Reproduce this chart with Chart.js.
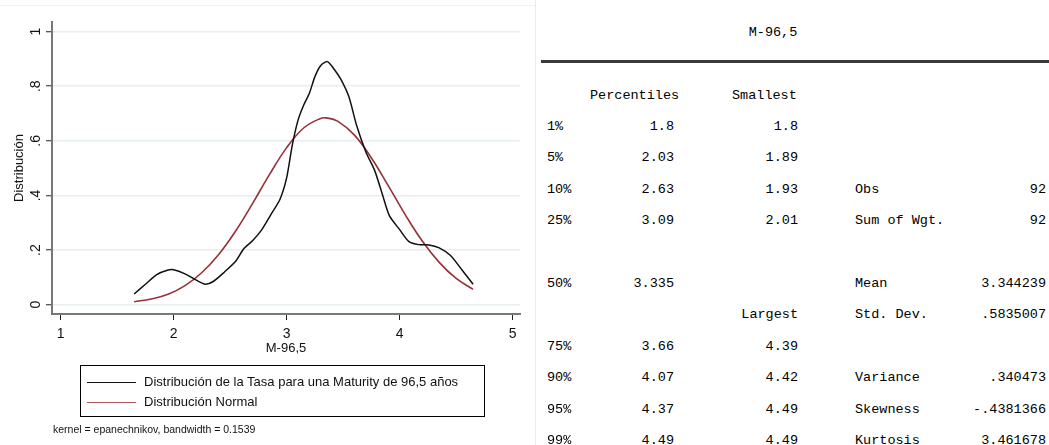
<!DOCTYPE html>
<html>
<head>
<meta charset="utf-8">
<script src="https://cdn.jsdelivr.net/npm/chart.js@4.4.1/dist/chart.umd.min.js"></script>
<style>
  body { margin: 0; background: #fff; width: 1049px; height: 445px; overflow: hidden; position: relative; font-family: "Liberation Sans", Arial, sans-serif; }
  #plot { position: absolute; left: 0; top: 0; }
  #topline { position: absolute; left: 0; top: 5px; width: 535px; height: 1px; background: #f1f3f3; }
  #vline { position: absolute; left: 535px; top: 0; width: 1px; height: 445px; background: #ececec; }
  #legend { position: absolute; left: 80px; top: 365px; width: 405px; height: 52px; border: 1px solid #000; box-sizing: border-box; font-size: 13px; color: #111; }
  .item { position: absolute; left: 6px; height: 16px; line-height: 16px; white-space: nowrap; }
  .swatch { display: inline-block; width: 49px; height: 0; border-top: 1.5px solid; vertical-align: middle; margin-right: 8px; }
  #note { position: absolute; left: 53px; top: 423px; font-size: 10.5px; color: #111; white-space: nowrap; }
  .c { position: absolute; font-family: "Liberation Mono", "Courier New", monospace; font-size: 13.5px; color: #000; white-space: pre; line-height: 16px; }
  #rule { position: absolute; left: 541px; top: 60px; width: 508px; height: 3px; background: #3a3a3a; }
</style>
</head>
<body>
<canvas id="plot" width="530" height="445"></canvas>
<div id="topline"></div>
<div id="vline"></div>
<div id="legend"></div>
<div id="note">kernel = epanechnikov, bandwidth = 0.1539</div>
<div id="rule"></div>
<div id="stats"></div>
<script>
// axis ticks
const xTicks = [1, 2, 3, 4, 5];
const yTicks = [0, 0.2, 0.4, 0.6, 0.8, 1];
const yTickLabels = ["0", ".2", ".4", ".6", ".8", "1"];

// kernel density
const kdeX = [1.65, 1.75, 1.85, 1.95, 2.0, 2.1, 2.2, 2.28, 2.35, 2.45, 2.55, 2.62, 2.7, 2.78, 2.86, 2.94, 3.0, 3.05, 3.1, 3.15, 3.2, 3.25, 3.3, 3.36, 3.42, 3.48, 3.55, 3.62, 3.7, 3.78, 3.85, 3.91, 4.0, 4.08, 4.17, 4.26, 4.35, 4.45, 4.55, 4.65];
const kdeY = [0.039, 0.075, 0.110, 0.127, 0.128, 0.113, 0.090, 0.075, 0.085, 0.120, 0.160, 0.205, 0.235, 0.275, 0.33, 0.385, 0.465, 0.585, 0.675, 0.73, 0.773, 0.835, 0.875, 0.890, 0.862, 0.825, 0.762, 0.655, 0.56, 0.49, 0.40, 0.325, 0.275, 0.232, 0.220, 0.219, 0.208, 0.180, 0.128, 0.075];

// normal curve
const normX = [1.65, 1.8, 1.95, 2.1, 2.25, 2.4, 2.55, 2.7, 2.85, 3.0, 3.15, 3.3, 3.35, 3.45, 3.6, 3.75, 3.9, 4.05, 4.2, 4.35, 4.5, 4.65];
const normY = [0.011, 0.021, 0.038, 0.070, 0.118, 0.185, 0.271, 0.372, 0.478, 0.575, 0.647, 0.682, 0.684, 0.672, 0.621, 0.537, 0.435, 0.329, 0.233, 0.155, 0.096, 0.056];

const seriesNames = ["Distribución de la Tasa para una Maturity de 96,5 años", "Distribución Normal"];
const seriesColors = ["#111111", "#983039"];

// summary table
const varName = "M-96,5";
const pctLabels = ["1%", "5%", "10%", "25%", "", "50%", "", "75%", "90%", "95%", "99%"];
const pctValues = ["1.8", "2.03", "2.63", "3.09", "", "3.335", "", "3.66", "4.07", "4.37", "4.49"];
const extremeValues = ["1.8", "1.89", "1.93", "2.01", "", "", "Largest", "4.39", "4.42", "4.49", "4.49"];
const statLabels = ["", "", "Obs", "Sum of Wgt.", "", "Mean", "Std. Dev.", "", "Variance", "Skewness", "Kurtosis"];
const statValues = ["", "", "92", "92", "", "3.344239", ".5835007", "", ".340473", "-.4381366", "3.461678"];

const yLabelsPlugin = {
  id: "yLabels",
  afterDraw(chart) {
    const ctx = chart.ctx;
    const y = chart.scales.y;
    ctx.save();
    ctx.fillStyle = "#111";
    ctx.font = '14px "Liberation Sans", Arial, sans-serif';
    ctx.textAlign = "center";
    ctx.textBaseline = "middle";
    yTicks.forEach((v, i) => {
      ctx.save();
      ctx.translate(36, y.getPixelForValue(v));
      ctx.rotate(-Math.PI / 2);
      ctx.fillText(yTickLabels[i], 0, 0);
      ctx.restore();
    });
    ctx.restore();
  },
};

new Chart(document.getElementById("plot").getContext("2d"), {
  type: "line",
  data: {
    datasets: [
      {
        label: seriesNames[0],
        data: kdeX.map((x, i) => ({ x: x, y: kdeY[i] })),
        borderColor: seriesColors[0],
        borderWidth: 1.5,
        pointRadius: 0,
        tension: 0.25,
        fill: false,
      },
      {
        label: seriesNames[1],
        data: normX.map((x, i) => ({ x: x, y: normY[i] })),
        borderColor: seriesColors[1],
        borderWidth: 1.6,
        pointRadius: 0,
        tension: 0.4,
        fill: false,
      },
    ],
  },
  options: {
    responsive: false,
    animation: false,
    devicePixelRatio: 1,
    layout: { padding: { left: 0, top: 22, right: 10, bottom: 89 } },
    plugins: { legend: { display: false }, tooltip: { enabled: false } },
    scales: {
      x: {
        type: "linear",
        min: 0.923,
        max: 5.065,
        afterBuildTicks: (s) => { s.ticks = xTicks.map((v) => ({ value: v })); },
        afterFit: (s) => { s.height = 42; },
        ticks: { color: "#111", font: { size: 14 }, padding: 6, maxRotation: 0, callback: (v) => String(v) },
        grid: { drawOnChartArea: false, drawTicks: true, tickLength: 6, tickColor: "#222", tickWidth: 1 },
        border: { color: "#777", width: 2 },
        title: { display: true, text: varName, color: "#111", font: { size: 13 }, padding: 0 },
      },
      y: {
        type: "linear",
        min: -0.034,
        max: 1.035,
        afterBuildTicks: (s) => { s.ticks = yTicks.map((v) => ({ value: v })); },
        afterFit: (s) => { s.width = 52; },
        ticks: { display: false },
        grid: { color: "#e6eef1", lineWidth: 1.5, drawTicks: true, tickLength: 6, tickColor: "#222", tickWidth: 1 },
        border: { color: "#777", width: 2 },
        title: { display: true, text: "Distribución", color: "#111", font: { size: 13 }, padding: { top: 12, bottom: 0 } },
      },
    },
  },
  plugins: [yLabelsPlugin],
});

// legend
const legend = document.getElementById("legend");
seriesNames.forEach((name, i) => {
  const row = document.createElement("div");
  row.className = "item";
  row.style.top = (i === 0 ? 8 : 28) + "px";
  row.innerHTML = '<span class="swatch" style="border-color:' + (i === 0 ? "#111" : "#b05a60") + '"></span>' + name;
  legend.appendChild(row);
});

// summary table
const stats = document.getElementById("stats");
function cell(text, x, yc, align) {
  const d = document.createElement("div");
  d.className = "c";
  d.textContent = text;
  d.style.top = (yc - 8) + "px";
  if (align === "right") d.style.right = (1049 - x) + "px";
  else if (align === "center") { d.style.left = (x - 200) + "px"; d.style.width = "400px"; d.style.textAlign = "center"; }
  else d.style.left = x + "px";
  stats.appendChild(d);
}
cell(varName, 773, 33, "center");
cell("Percentiles", 590, 96, "left");
cell("Smallest", 732, 96, "left");
pctLabels.forEach((lab, i) => {
  const yc = 127 + 31.4 * i;
  if (lab) cell(lab, 547, yc, "left");
  if (pctValues[i]) cell(pctValues[i], 674, yc, "right");
  if (extremeValues[i]) cell(extremeValues[i], 798, yc, "right");
  if (statLabels[i]) cell(statLabels[i], 855, yc, "left");
  if (statValues[i]) cell(statValues[i], 1046, yc, "right");
});
</script>
</body>
</html>
